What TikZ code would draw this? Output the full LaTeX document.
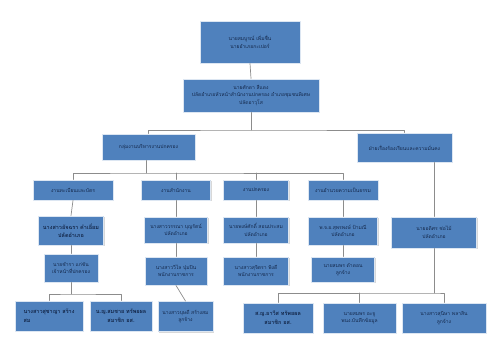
\documentclass[tikz,border=0pt]{standalone}
\usepackage{fontspec}
\newfontfamily\thaifont[Script=Thai]{Loma}
\usetikzlibrary{shadows}
\definecolor{boxblue}{HTML}{4F81BD}
\definecolor{boxtext}{HTML}{14284B}
\tikzset{
  orgbox/.style={draw=white!80!boxblue,line width=.9pt,fill=boxblue,
    text=boxtext,align=center,inner sep=1pt,
    font=\thaifont\fontsize{5}{7.5}\selectfont,
    drop shadow={shadow xshift=1pt,shadow yshift=-1.2pt,fill=black!30}},
  conn/.style={draw=black!45,line width=.7pt}
}

\begin{document}
\begin{tikzpicture}[x=1pt,y=-1pt,line cap=round,line join=round]
    \useasboundingbox (0,0) rectangle (500,353);

    % Head and deputy.
    \node[orgbox,minimum width=100,minimum height=42] (chief) at (250,42)
      {นายสมบูรณ์ เพิ่มชื่น\\นายอำเภอกะเปอร์};
    \node[orgbox,minimum width=136,minimum height=33] (deputy) at (251,95.5)
      {นายศักดา สีแดง\\ปลัดอำเภอหัวหน้าสำนักงานปกครอง อำเภอชุมชนพิเศษ\\ปลัดอาวุโส};

    % Two groups.
    \node[orgbox,minimum width=93,minimum height=26] (grpadmin) at (148.5,147)
      {กลุ่มงานบริหารงานปกครอง};
    \node[orgbox,minimum width=95,minimum height=29] (grpsec) at (404.5,147.5)
      {ฝ่ายเรื่องร้องเรียนและความมั่นคง};

    % Sections.
    \node[orgbox,minimum width=80,minimum height=20] (reg) at (73,190)
      {งานทะเบียนและบัตร};
    \node[orgbox,minimum width=69,minimum height=20] (office) at (176,190)
      {งานสำนักงาน};
    \node[orgbox,minimum width=65,minimum height=20] (admin) at (256,190)
      {งานปกครอง};
    \node[orgbox,minimum width=70,minimum height=20] (justice) at (343,190)
      {งานอำนวยความเป็นธรรม};

    % Officers.
    \node[orgbox,minimum width=65,minimum height=29,
      font=\thaifont\bfseries\fontsize{5.5}{8}\selectfont] (offa) at (71,230.5)
      {นางสาวอัจฉรา คำเอี่ยม\\ปลัดอำเภอ};
    \node[orgbox,minimum width=63,minimum height=26] (offb) at (176,230)
      {นางสาววรรณา บุญรัตน์\\ปลัดอำเภอ};
    \node[orgbox,minimum width=65,minimum height=26] (offc) at (256,230)
      {นายพงษ์ศักดิ์ สอนประสม\\ปลัดอำเภอ};
    \node[orgbox,minimum width=69,minimum height=28] (offd) at (343,231)
      {พ.จ.อ.สุพรพงษ์ ป้ามณี\\ปลัดอำเภอ};
    \node[orgbox,minimum width=85,minimum height=31] (offe) at (434,232.5)
      {นายอดิศร ช่อไม้\\ปลัดอำเภอ};

    % Staff.
    \node[orgbox,minimum width=54,minimum height=28] (stfa) at (71,268)
      {นายชำรา แก่ชัน\\เจ้าหน้าที่ปกครอง};
    \node[orgbox,minimum width=62,minimum height=28] (stfb) at (176,271)
      {นางสาววิไล ปุ่มปิน\\พนักงานราชการ};
    \node[orgbox,minimum width=65,minimum height=28] (stfc) at (256,271)
      {นางสาวสุจิตรา พิงดี\\พนักงานราชการ};
    \node[orgbox,minimum width=63,minimum height=25] (stfd) at (343,269.5)
      {นายสมพร ดำดอน\\ลูกจ้าง};

    % Bottom row.
    \node[orgbox,minimum width=68,minimum height=30,align=left,
      font=\thaifont\bfseries\fontsize{5.5}{9}\selectfont] (lowa) at (49,316)
      {นางสาวสุชาญา สร้าง\\สม};
    \node[orgbox,minimum width=62,minimum height=30,
      font=\thaifont\bfseries\fontsize{5.5}{9}\selectfont] (lowb) at (121,316)
      {น.ญ.สมชาย ทรัพยผล\\สมาชิก อส.};
    \node[orgbox,minimum width=55,minimum height=30] (lowc) at (185.5,316.5)
      {นางสาวบุษดี สร้างสม\\ลูกจ้าง};
    \node[orgbox,minimum width=70,minimum height=30,
      font=\thaifont\bfseries\fontsize{5.5}{9}\selectfont] (lowd) at (278,318)
      {ส.ญ.อาวีส ทรัพยผล\\สมาชิก อส.};
    \node[orgbox,minimum width=73,minimum height=30] (lowe) at (359.5,318)
      {นายสมพร อะจู\\พนง.บันทึกข้อมูล};
    \node[orgbox,minimum width=84,minimum height=30] (lowf) at (444,318)
      {นางสาวสุนิษา พลาสิน\\ลูกจ้าง};

    % Connectors.
    \coordinate (bustop) at (251,130);
    \coordinate (busgrp) at (146,173);
    \coordinate (busleft) at (71,294);
    \coordinate (busright) at (437,293);
    \draw[conn] (chief.south) -- (deputy.north);
    \draw[conn] (deputy.south) -- (bustop);
    \draw[conn] (grpadmin.north) |- (bustop) -| (grpsec.north);
    \draw[conn] (grpadmin.south -| busgrp) -- (busgrp);
    \draw[conn] (reg.north) |- (busgrp) -| (justice.north);
    \draw[conn] (office.north) -- (office.north |- busgrp);
    \draw[conn] (admin.north) -- (admin.north |- busgrp);
    \draw[conn] (reg.south) -- (offa.north);
    \draw[conn] (office.south) -- (offb.north);
    \draw[conn] (admin.south) -- (offc.north);
    \draw[conn] (justice.south) -- (offd.north);
    \draw[conn] (grpsec.south -| offe.north) -- (offe.north);
    \draw[conn] (offa.south) -- (stfa.north);
    \draw[conn] (offb.south) -- (stfb.north);
    \draw[conn] (offc.south) -- (stfc.north);
    \draw[conn] (offd.south) -- (stfd.north);
    \draw[conn] (stfa.south) -- (busleft);
    \draw[conn] (lowa.north) |- (busleft) -| (lowb.north);
    \draw[conn] (stfb.south) -- (lowc.north);
    \draw[conn] (offe.south) -- (offe.south |- busright);
    \draw[conn] (lowd.north) |- (busright) -| (lowf.north);
    \draw[conn] (lowe.north) -- (lowe.north |- busright);
\end{tikzpicture}
\end{document}
